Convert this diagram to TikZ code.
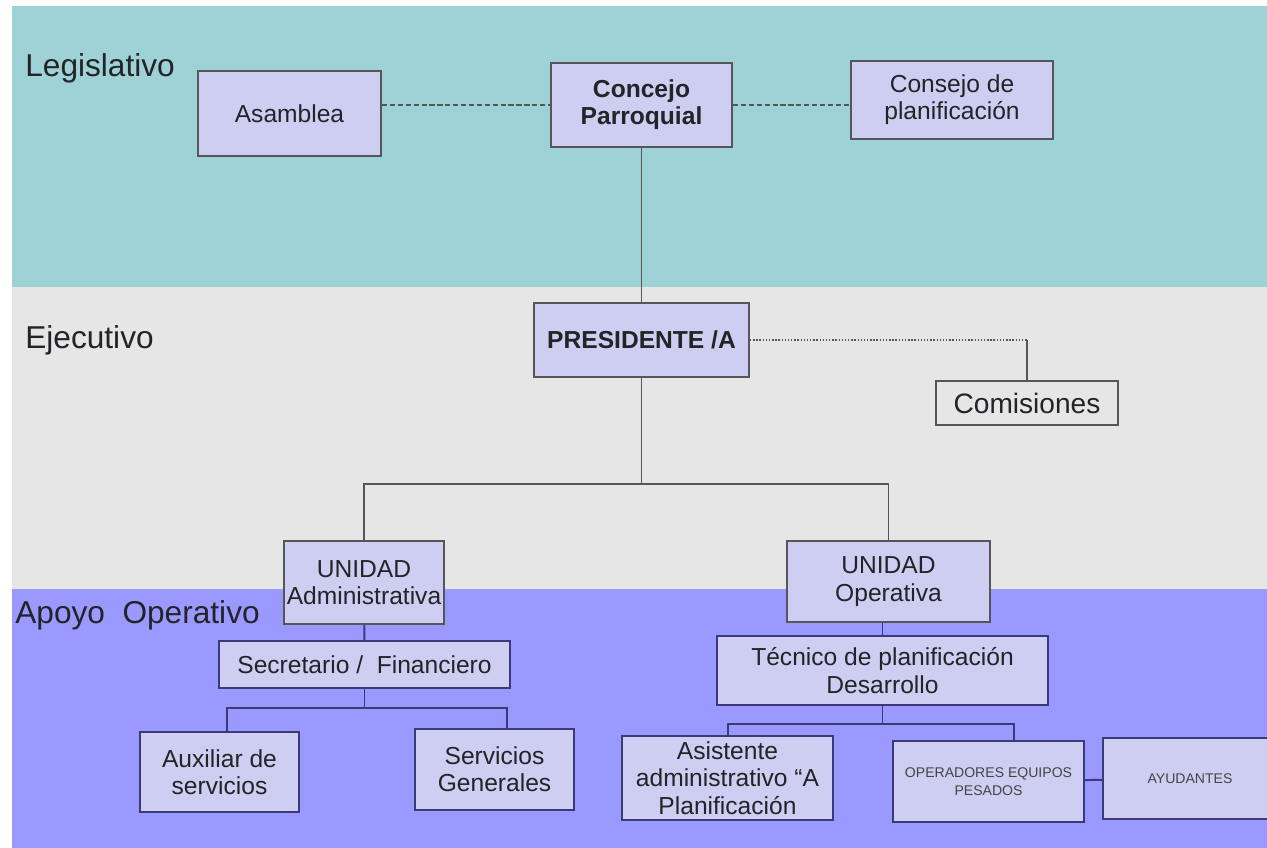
\documentclass[tikz,border=0pt]{standalone}
\usepackage{fontspec}
\setmainfont{Liberation Sans}
\usepackage{xcolor}

\definecolor{legis}{RGB}{158,210,214}
\definecolor{ejec}{RGB}{230,230,230}
\definecolor{apoyo}{RGB}{153,153,255}
\definecolor{boxfill}{RGB}{206,206,242}
\definecolor{linegray}{RGB}{85,85,90}
\definecolor{lineblue}{RGB}{58,58,118}
\definecolor{textcol}{RGB}{35,35,40}

\tikzset{
  boxsize/.style 2 args={minimum width=#1*0.02cm, minimum height=#2*0.02cm},
  orgbox/.style={draw=linegray, fill=boxfill, line width=1.1pt, inner sep=0pt,
    align=center, text=textcol, font=\fontsize{14}{15.5}\selectfont},
  lowbox/.style={orgbox, draw=lineblue},
  link/.style={draw=linegray, line width=1.1pt},
  lowlink/.style={draw=lineblue, line width=1.1pt},
  bandlabel/.style={anchor=base west, inner sep=0pt, text=textcol,
    font=\fontsize{18}{20}\selectfont}
}

\begin{document}
\begin{tikzpicture}[x=0.02cm, y=-0.02cm]
\useasboundingbox (0,0) rectangle (1267,848);

% bands
\fill[legis] (12,6) rectangle (1267,287);
\fill[ejec] (12,287) rectangle (1267,589);
\fill[apoyo] (12,589) rectangle (1267,848);

\node[bandlabel] (legislativo) at (25,77) {Legislativo};
\node[bandlabel] (ejecutivo) at (25,348) {Ejecutivo};
\node[bandlabel] (apoyo) at (15,623) {Apoyo~~Operativo};

% legislativo
\node[orgbox, boxsize={183}{85}] (asam) at (289.5,113.5) {Asamblea};
\node[orgbox, boxsize={181}{84}, font=\fontsize{14}{15.5}\selectfont\bfseries] (concejo) at (641.5,105) {Concejo\\Parroquial};
\node[orgbox, boxsize={202}{78}] (consejo) at (952,100) {Consejo de\\planificación};

% ejecutivo
\node[orgbox, boxsize={215}{74}, font=\fontsize{14}{15.5}\selectfont\bfseries] (pres) at (641.5,340) {PRESIDENTE /A};
\node[draw=linegray, line width=0.8pt, inner sep=0pt, text=textcol,
  boxsize={182}{44}, font=\fontsize{16}{18}\selectfont] (comis) at (1027,403) {Comisiones};

% unidades
\node[orgbox, boxsize={160}{83}] (uadm) at (364,582.5) {UNIDAD\\Administrativa};
\node[orgbox, boxsize={203}{81}] (uop) at (888.5,581.5) {UNIDAD\\Operativa};

% apoyo operativo
\node[lowbox, boxsize={291}{47}] (secr) at (364.5,664.5) {Secretario /~ Financiero};
\node[lowbox, boxsize={159}{80}] (aux) at (219.5,772) {Auxiliar de\\servicios};
\node[lowbox, boxsize={159}{81}] (serv) at (494.5,769.5) {Servicios\\Generales};

\node[lowbox, boxsize={331}{69}] (tec) at (882.5,670.5) {Técnico de planificación\\Desarrollo};
\node[lowbox, boxsize={211}{84}] (asis) at (727.5,778) {Asistente\\administrativo “A\\Planificación};
\node[lowbox, boxsize={191}{81}, text=textcol!85, font=\fontsize{8}{10}\selectfont] (opers) at (988.5,781.5) {OPERADORES EQUIPOS\\PESADOS};
\node[lowbox, boxsize={174}{81}, text=textcol!85, font=\fontsize{8}{10}\selectfont] (ayud) at (1190,778.5) {AYUDANTES};

% connectors
\draw[link, dash pattern=on 3pt off 1.5pt] (concejo.west -| asam.east) -- (concejo.west);
\draw[link, dash pattern=on 3pt off 1.5pt] (concejo.east) -- (concejo.east -| consejo.west);
\draw[link] (concejo) -- (pres);

\draw[link, line width=0.8pt, densely dotted] (pres.east) -- (pres.east -| comis.north);
\draw[link, line width=0.8pt] (pres.east -| comis.north) -- (comis.north);

\coordinate (bus1) at (641.5,484);
\draw[link] (pres) -- (bus1);
\draw[link] (uadm) |- (bus1) -| (uop);

\draw[lowlink] (uadm) -- (secr);
\coordinate (b2l) at (227,708);
\coordinate (b2r) at (507,708);
\draw[lowlink] (secr) -- (secr |- b2l);
\draw[lowlink] (b2l |- aux.north) -- (b2l) -- (b2r) -- (b2r |- serv.north);

\draw[lowlink] (tec.north) -- (tec.north |- uop.south);
\coordinate (b3l) at (728,724);
\coordinate (b3r) at (1014,724);
\draw[lowlink] (tec) -- (tec |- b3l);
\draw[lowlink] (b3l |- asis.north) -- (b3l) -- (b3r) -- (b3r |- opers.north);
\draw[lowlink] (opers) -- (ayud);
\end{tikzpicture}
\end{document}
